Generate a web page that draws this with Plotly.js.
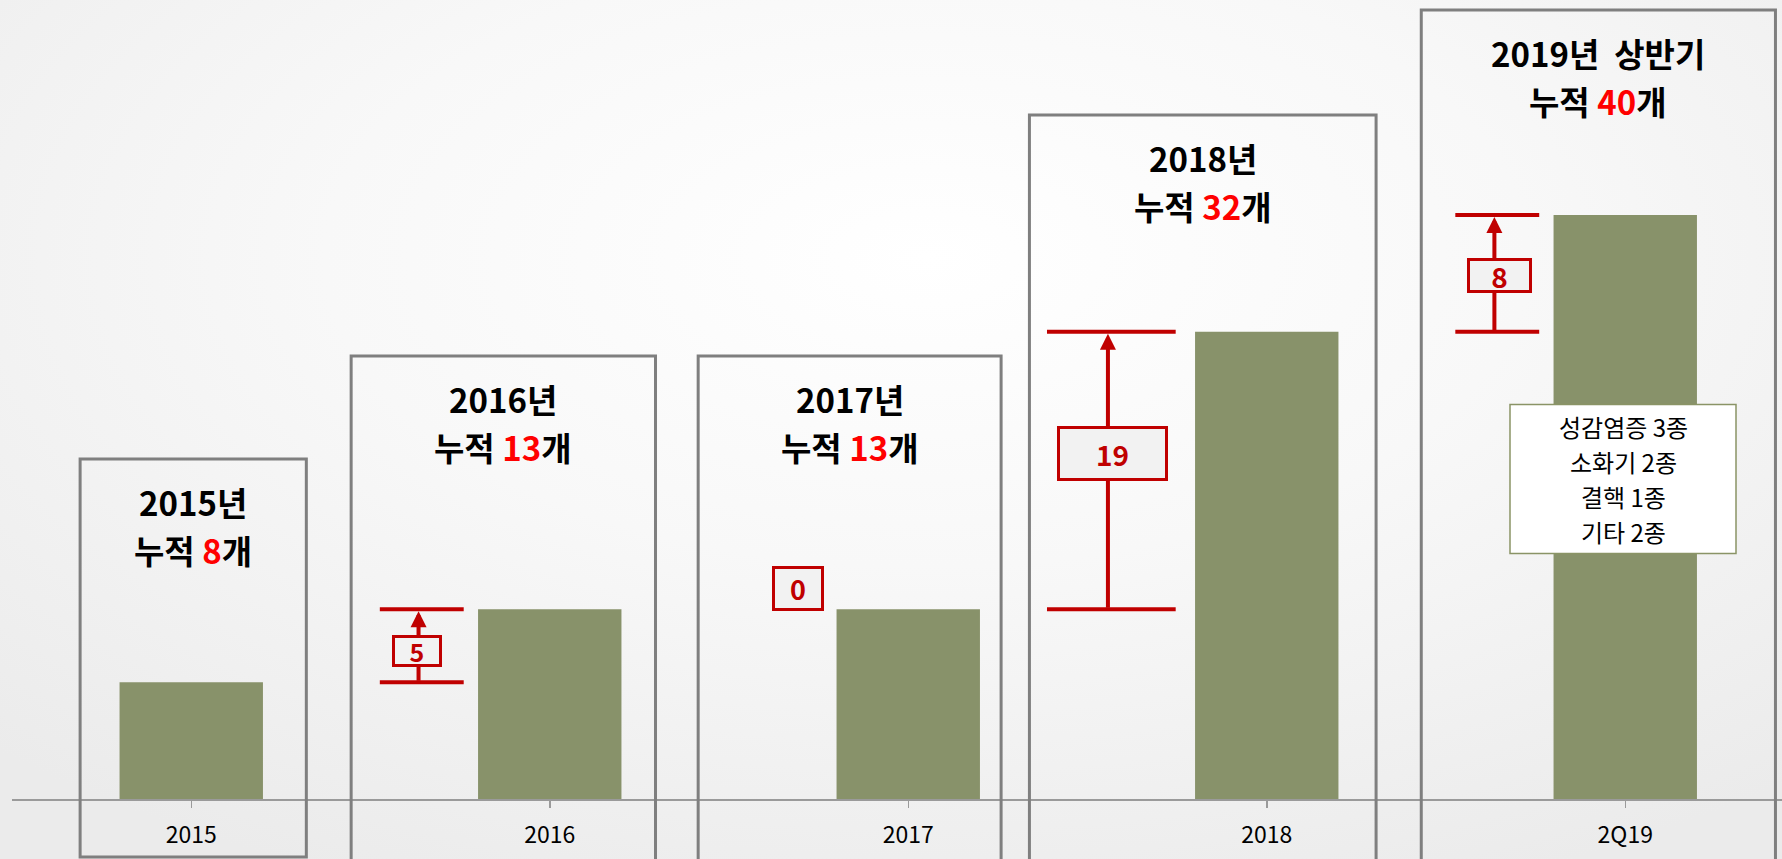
<!DOCTYPE html>
<html>
<head>
<meta charset="utf-8">
<script src="https://cdn.plot.ly/plotly-3.0.1.min.js"></script>
<style>
  html, body { margin: 0; padding: 0; }
  body {
    width: 1782px; height: 859px; overflow: hidden;
    background: radial-gradient(ellipse 75% 80% at 52% 30%, #ffffff 0%, #f8f8f8 45%, #ebebeb 100%);
  }
  #chart { width: 1782px; height: 859px; }
</style>
</head>
<body>
<div id="chart"></div>
<script>
// ---------------- DATA ----------------
const categories = ['2015', '2016', '2017', '2018', '2Q19'];
const cumulative = [8, 13, 13, 32, 40];          // 누적 개수
const added = [null, 5, 0, 19, 8];               // 기간별 신규 개수
const periodLabels = ['2015년', '2016년', '2017년', '2018년', '2019년\u00a0\u00a0상반기'];
const breakdownLabels = ['성감염증 3종', '소화기 2종', '결핵 1종', '기타 2종'];

// ---------------- STYLE / LAYOUT CONSTANTS ----------------
const W = 1782, H = 859;
const PLOT_LEFT = 12, PLOT_BOTTOM_PX = 799;      // pixel of the baseline
const PX_PER_CAT = 358.5, PX_PER_UNIT = 14.6;
const X_MIN = -0.5, X_MAX = X_MIN + (W - PLOT_LEFT) / PX_PER_CAT;
const Y_MAX = PLOT_BOTTOM_PX / PX_PER_UNIT;
const RED = '#c00000', BAR = '#88926a', FRAME = '#7f7f7f';
const FONT = 'Noto Sans CJK KR, Noto Sans, sans-serif';

// frame boxes around each period: [left offset, right offset] in category units, top in px
const frameOffsets = [[-0.310, 0.321], [-0.554, 0.295], [-0.586, 0.259], [-0.662, 0.305], [-0.569, 0.419]];
const frameTopPx = [459, 356, 356, 115, 10];
const frameBottomPx = [857, 875, 875, 875, 875];
const TITLE = {fs: 33, line1: 43, line2: 91};    // px below frame top (line centres)
// bracket geometry (category-unit offsets), label box sizes (px) & shifts (px)
const bracketStyle = {
  1: {x0: -0.474, x1: -0.240, ax: -0.366, bx: -0.370, w: 47, h: 29, fs: 25, dy: -5},
  2: {bx: -0.308, w: 49, h: 42, fs: 27, dy: 21},
  3: {x0: -0.613, x1: -0.254, ax: -0.443, bx: -0.430, w: 108, h: 52, fs: 28, dy: 17},
  4: {x0: -0.474, x1: -0.240, ax: -0.365, bx: -0.352, w: 62, h: 32, fs: 28, dy: -2}
};
// breakdown note box (px)
const NOTE = {cx: 1623, cy: 479, w: 226, h: 149, lineGap: 35, fs: 24};

const py = px => (PLOT_BOTTOM_PX - px) / PLOT_BOTTOM_PX;          // px -> paper y
const pxX = px => (px - PLOT_LEFT) / (W - PLOT_LEFT);             // px -> paper x
const catX = (i, off) => i + off;                                 // category index + offset
const px2paperX = (xv) => (xv - X_MIN) / (X_MAX - X_MIN);

// ---------------- TRACES ----------------
const traces = [{
  type: 'bar',
  x: categories.map((c, i) => i),
  y: cumulative,
  width: 0.4,
  marker: {color: BAR, line: {width: 0}},
  hoverinfo: 'skip'
}];

// ---------------- SHAPES & ANNOTATIONS ----------------
const shapes = [];
const annotations = [];

categories.forEach((c, i) => {
  const [o0, o1] = frameOffsets[i];
  shapes.push({
    type: 'rect', xref: 'paper', yref: 'paper', layer: 'above',
    x0: px2paperX(catX(i, o0)), x1: px2paperX(catX(i, o1)),
    y0: py(frameBottomPx[i]), y1: py(frameTopPx[i]),
    line: {color: FRAME, width: 3}, fillcolor: 'rgba(0,0,0,0)'
  });
  const tx = px2paperX(catX(i, (o0 + o1) / 2));
  // title, line 1
  annotations.push({
    xref: 'paper', yref: 'paper', x: tx, y: py(frameTopPx[i] + TITLE.line1),
    xanchor: 'center', yanchor: 'middle', showarrow: false,
    text: '<b>' + periodLabels[i] + '</b>',
    font: {family: FONT, size: TITLE.fs, color: '#000000'}
  });
  // title, line 2
  annotations.push({
    xref: 'paper', yref: 'paper', x: tx, y: py(frameTopPx[i] + TITLE.line2),
    xanchor: 'center', yanchor: 'middle', showarrow: false,
    text: '<b>누적 <span style="color:#ff0000">' + cumulative[i] + '</span>개</b>',
    font: {family: FONT, size: TITLE.fs, color: '#000000'}
  });
});

added.forEach((v, i) => {
  if (v === null) return;
  const s = bracketStyle[i];
  const lo = cumulative[i - 1], hi = cumulative[i];
  if (v > 0) {
    [lo, hi].forEach(yv => shapes.push({
      type: 'line', xref: 'x', yref: 'y', layer: 'above',
      x0: catX(i, s.x0), x1: catX(i, s.x1), y0: yv, y1: yv,
      line: {color: RED, width: 4}
    }));
    annotations.push({
      xref: 'x', yref: 'y', axref: 'x', ayref: 'y',
      x: catX(i, s.ax), y: hi, ax: catX(i, s.ax), ay: lo,
      text: '', showarrow: true, arrowhead: 2, arrowsize: 0.8, arrowwidth: 4,
      arrowcolor: RED, standoff: 2, startstandoff: 0
    });
  }
  annotations.push({
    xref: 'x', yref: 'y',
    x: catX(i, s.bx), y: v > 0 ? (lo + hi) / 2 : hi,
    yshift: s.dy, showarrow: false,
    text: '<b>' + v + '</b>',
    font: {family: FONT, size: s.fs, color: RED},
    bgcolor: '#f2f2f2', bordercolor: RED, borderwidth: 3, borderpad: 0,
    width: s.w - 3, height: s.h - 3, align: 'center', valign: 'middle'
  });
});

// breakdown note box for the last period
shapes.push({
  type: 'rect', xref: 'paper', yref: 'paper', layer: 'above',
  x0: pxX(NOTE.cx - NOTE.w / 2), x1: pxX(NOTE.cx + NOTE.w / 2),
  y0: py(NOTE.cy + NOTE.h / 2), y1: py(NOTE.cy - NOTE.h / 2),
  line: {color: '#8a9466', width: 1.5}, fillcolor: '#ffffff'
});
breakdownLabels.forEach((t, k) => {
  annotations.push({
    xref: 'paper', yref: 'paper',
    x: pxX(NOTE.cx), y: py(NOTE.cy + (k - (breakdownLabels.length - 1) / 2) * NOTE.lineGap),
    xanchor: 'center', yanchor: 'middle', showarrow: false,
    text: t, font: {family: FONT, size: NOTE.fs, color: '#000000'}
  });
});

// ---------------- LAYOUT ----------------
const layout = {
  width: W, height: H,
  margin: {l: PLOT_LEFT, r: 0, t: 0, b: H - PLOT_BOTTOM_PX, pad: 0},
  paper_bgcolor: 'rgba(0,0,0,0)',
  plot_bgcolor: 'rgba(0,0,0,0)',
  showlegend: false,
  xaxis: {
    range: [X_MIN, X_MAX],
    tickmode: 'array', tickvals: categories.map((c, i) => i), ticktext: categories,
    tickson: 'boundaries', ticks: 'outside', ticklen: 7, tickwidth: 1.5, tickcolor: '#9a9a9a',
    showline: true, linecolor: '#9a9a9a', linewidth: 2,
    showgrid: false, zeroline: false, fixedrange: true,
    ticklabelstandoff: 7,
    tickfont: {family: FONT, size: 23, color: '#000000'}
  },
  yaxis: {
    range: [0, Y_MAX], visible: false, showgrid: false, zeroline: false, fixedrange: true
  },
  shapes: shapes,
  annotations: annotations
};

Plotly.newPlot('chart', traces, layout, {displayModeBar: false, staticPlot: true});
</script>
</body>
</html>
